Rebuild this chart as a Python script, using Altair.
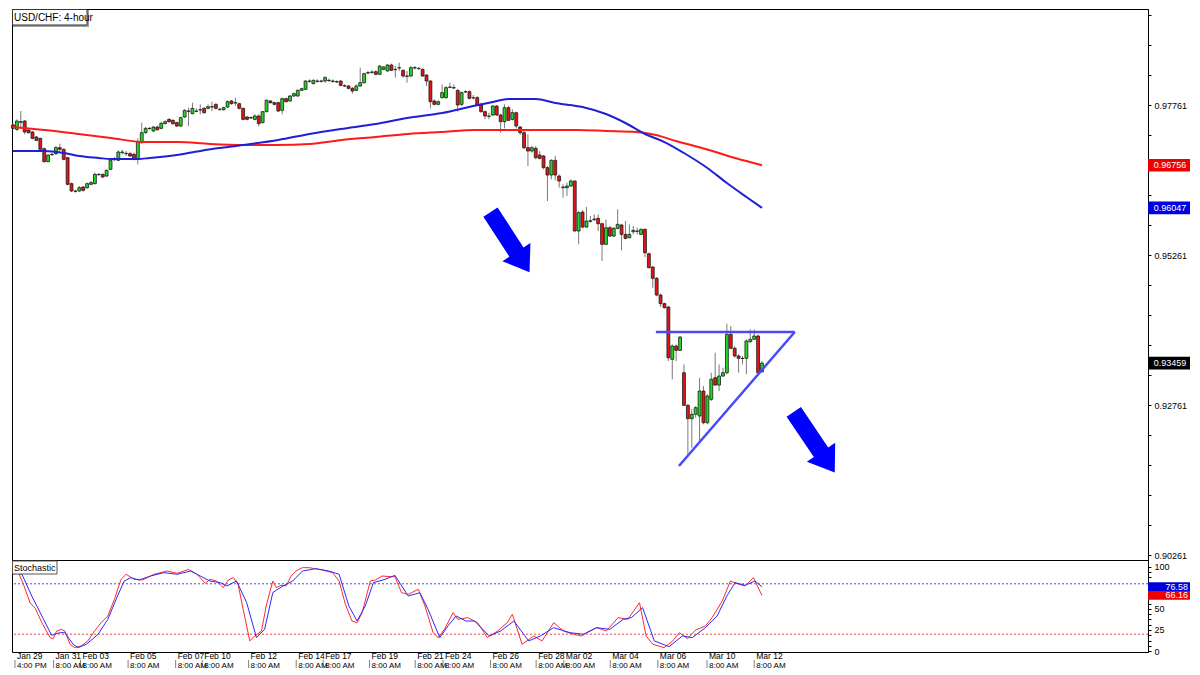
import altair as alt
import pandas as pd

# ---------------- data (prices in points, 1 point = 0.00001) ----------------
OPEN = [97428,97355,97472,97494,97344,97311,97228,97205,97033,96817,
        96933,96950,97050,97022,96883,96450,96322,96328,96394,96383,
        96439,96450,96600,96605,96578,96689,96850,96839,96967,96956,
        96950,96939,96855,97133,97300,97367,97328,97394,97372,97450,
        97522,97505,97467,97411,97561,97655,97617,97655,97678,97705,
        97705,97728,97772,97683,97683,97728,97828,97794,97783,97705,
        97561,97544,97522,97578,97467,97650,97828,97800,97800,97672,
        97867,97828,97911,97911,98005,98022,98155,
        98117,98155,98155,98161,98172,98161,98150,98161,98083,98078,
        98039,98005,98078,98133,98294,98305,98316,98272,98355,98328,
        98428,98350,98378,98339,98239,98244,98378,98366,98355,98261,
        98161,97828,97772,97883,97883,98055,98044,98005,97772,97978,
        97983,97878,97883,97761,97650,97572,97594,97744,97594,97483,
        97717,97522,97633,97394,97300,97050,96994,97039,96928,96911,
        96717,96594,96839,
        96577,96383,96383,96411,96494,95661,95977,95727,95822,95849,
        95872,95783,95439,95716,95577,95705,95761,95605,95549,95649,
        95655,95605,95688,95283,95061,94872,94594,94450,94394,
        93522,93744,93672,93299,92756,92533,92606,92578,92994,92466,
        92856,93216,93094,93244,93299,93939,93706,93578,93539,93539,
        93816,93856,93911,93316]
HIGH = [97467,97522,97661,97511,97355,97328,97244,97217,97050,96939,
        96967,97078,97117,97039,96894,96467,96350,96411,96411,96467,
        96494,96633,96628,96622,96689,96855,96894,97005,97017,96994,
        96983,96967,97205,97467,97394,97394,97411,97417,97483,97505,
        97539,97522,97483,97567,97689,97717,97800,97705,97772,97728,
        97772,97817,97789,97717,97733,97839,97844,97883,97800,97717,
        97578,97572,97605,97605,97661,97855,97844,97817,97817,97883,
        97883,97928,97967,98022,98050,98172,98189,
        98189,98189,98183,98244,98205,98189,98172,98178,98105,98094,
        98061,98105,98383,98300,98328,98339,98339,98428,98411,98439,
        98450,98411,98466,98355,98328,98411,98411,98394,98372,98272,
        98172,97855,97839,98105,98078,98133,98105,98022,97983,98005,
        98005,97928,97911,97800,97672,97633,97761,97761,97617,97772,
        97744,97689,97650,97411,97328,97272,97078,97078,96994,96928,
        96744,96855,96911,
        96605,96439,96466,96522,96505,95994,96005,96061,95911,95938,
        95938,95799,95855,95744,95727,96022,95783,95827,95772,95744,
        95716,95705,95705,95299,95077,94894,94616,94466,94411,
        93772,93772,93911,93439,92778,92694,92744,93216,93078,92939,
        93299,93633,93439,93383,94116,94078,93744,93606,93578,93856,
        94023,94023,93939,93494]
LOW = [97355,97328,97372,97272,97283,97189,97161,97005,96800,96805,
       96911,96928,96994,96839,96422,96311,96300,96311,96317,96367,
       96428,96439,96583,96544,96561,96678,96828,96828,96939,96911,
       96894,96839,96772,97117,97283,97350,97311,97333,97355,97439,
       97467,97433,97394,97394,97550,97411,97605,97639,97605,97617,
       97689,97661,97689,97672,97667,97711,97767,97744,97689,97505,
       97505,97528,97505,97405,97455,97639,97783,97755,97644,97605,
       97800,97817,97894,97900,97994,98011,98133,
       98105,98133,98133,98133,98150,98133,98128,98072,98061,98022,
       97950,97994,98061,98117,98272,98283,98255,98261,98339,98316,
       98328,98217,98328,98217,98133,98228,98355,98350,98228,98078,
       97705,97755,97755,97867,97867,98039,98028,97650,97744,97961,
       97855,97855,97744,97633,97522,97522,97578,97578,97300,97372,
       97494,97505,97372,97261,97022,96744,96967,96855,96855,96689,
       96161,96522,96505,
       96383,96216,96244,96394,95650,95439,95705,95716,95800,95827,
       95661,95161,95427,95561,95561,95688,95338,95522,95538,95605,
       95605,95594,95227,95038,94716,94577,94394,94372,93494,
       93189,93494,93661,92744,91939,92049,92549,92133,92439,92439,
       92828,93078,92994,93228,93273,93689,93549,93299,93439,93273,
       93799,93856,93283,93299]
CLOSE = [97372,97494,97483,97311,97300,97205,97172,97022,96817,96928,
         96939,97050,97022,96855,96439,96328,96328,96383,96339,96450,
         96467,96605,96605,96561,96672,96839,96855,96978,96978,96950,
         96911,96855,97150,97300,97372,97372,97394,97350,97455,97483,
         97483,97450,97411,97550,97672,97661,97705,97661,97683,97633,
         97733,97733,97705,97689,97717,97817,97783,97800,97705,97522,
         97522,97550,97578,97450,97650,97839,97800,97772,97661,97867,
         97817,97911,97950,98005,98033,98161,98161,
         98172,98161,98161,98217,98166,98155,98144,98089,98078,98039,
         97994,98078,98133,98283,98300,98311,98272,98411,98394,98428,
         98339,98355,98383,98244,98244,98383,98383,98372,98244,98161,
         97817,97772,97817,97967,98050,98061,98050,97761,97967,97983,
         97872,97883,97761,97650,97578,97578,97744,97594,97483,97717,
         97505,97633,97411,97300,97050,96994,97050,96883,96872,96717,
         96594,96839,96594,
         96494,96394,96411,96494,95661,95966,95727,95827,95833,95861,
         95783,95439,95716,95577,95705,95772,95605,95538,95605,95672,
         95661,95688,95299,95050,94872,94594,94450,94383,93549,
         93744,93672,93894,92756,92533,92606,92716,92994,92466,92911,
         93189,93094,93244,93299,93939,93706,93578,93539,93536,93828,
         93856,93911,93299,93459]

# moving averages (candle index, price in points)
MA_BLUE_I = [0, 8, 13, 17, 22, 25, 32, 35, 42, 51, 59, 68, 76, 84, 93, 101,
             110, 118, 123, 127, 134, 139, 146, 152, 157, 162, 167, 172, 178, 183, 188, 192]
MA_BLUE_V = [96994, 96994, 96961, 96911, 96878, 96861, 96861, 96878, 96928, 97028,
             97094, 97178, 97278, 97361, 97444, 97544, 97628, 97744, 97811, 97861,
             97861, 97794, 97728, 97611, 97461, 97278, 97144, 96961, 96711, 96461,
             96228, 96047]
MA_RED_I = [0, 8.1, 16.8, 25.1, 33.5, 42.2, 50.5, 59, 67.6, 76, 84.3, 93, 101.3,
            109.7, 118.4, 126.7, 135.1, 144.5, 152.1, 159.7, 164.8, 169.9, 177.5, 185.1, 192]
MA_RED_V = [97394, 97344, 97278, 97211, 97144, 97144, 97111, 97094, 97094, 97111,
            97178, 97228, 97278, 97311, 97344, 97344, 97344, 97344, 97328, 97311,
            97261, 97161, 97028, 96878, 96756]

# stochastic %K (red) and %D (blue)
K_I = [0, 1.4, 2.7, 4.4, 5.7, 7.4, 9.5, 10.3, 11.2, 12.4, 13.3, 14.6, 15.8, 17.5, 19.2,
       20.9, 22.6, 24.3, 26, 27.7, 29, 31.1, 33.2, 36.1, 39.5, 42.1, 45, 47.2, 49.3, 50.5,
       52.2, 53.9, 55.2, 56.5, 57.7, 59, 60.7, 62, 63.7, 64.9, 66.6, 67.5, 68.7, 70, 71.3,
       72.5, 74.2, 75.9, 79.3, 81.9, 83.6, 85.2, 86.9, 88.2, 89.5, 91.6, 92.9, 94.6, 96.7,
       97.9, 99.6, 101.3, 103.9, 105.6, 107.7, 109, 110.6, 112.8, 114, 116.6, 119.1, 121.6,
       124.2, 126.7, 128, 130.5, 133.5, 135.6, 138.6, 141.1, 143.7, 145.8, 147.1, 149.6,
       152.1, 155.1, 157.6, 160.6, 162.3, 164, 166.9, 169.1, 170.8, 172.9, 175, 177.5,
       179.2, 181.8, 183.9, 186, 187.7, 189.8, 192]
K_V = [91.3, 93, 79, 57, 51, 33.7, 16, 14.7, 23.8, 25.8, 23.8, 8, 4, 6, 12,
       23.8, 33.7, 41.7, 61.5, 85.3, 91.3, 85.3, 84.5, 91.3, 95.2, 92.5, 97.2, 91.3, 80.6, 85.3,
       83.3, 75.4, 84.5, 87.3, 79.4, 49.6, 12, 17.9, 23.8, 53.6, 83.3, 75.4, 78.2, 77.4, 89.3,
       95.2, 99.2, 99.2, 96.4, 93.3, 83.3, 55.6, 35.7, 33.7, 45.6, 83.3, 84.5, 89.3, 88.5,
       88.5, 69.4, 67.5, 73.4, 53.6, 21.8, 15.9, 25.8, 45.6, 37.7, 39.7, 33.7, 15.9,
       23.8, 33.7, 43.7, 8, 17.9, 12, 33.7, 23.8, 19.9, 17.9, 21.8, 27.8,
       23.8, 39.7, 37.7, 57.6, 17.9, 8, 4, 12, 21.8, 14.7, 25, 29.8,
       39.7, 59.5, 83.3, 79.4, 77.4, 87.3, 66.16]
D_I = [0, 2.3, 4.8, 7.4, 9.9, 12, 13.3, 15.4, 16.7, 18.8, 21.8, 24.3, 26.8, 28.5, 30.2,
       32.3, 35.3, 38.7, 42.1, 45.5, 48, 50.5, 53.1, 54.8, 57.3, 59.9, 62.4, 64.5, 66.6,
       69.2, 71.7, 74.2, 77.6, 81, 83.6, 86.1, 88.2, 90.3, 92.4, 95.4, 97.9, 101.3, 104.3,
       106.4, 109.4, 111.5, 113.6, 116.1, 118.3, 122.1, 125, 128.4, 132.2, 135.2, 138.6,
       142.8, 146.2, 149.6, 153, 156.4, 158.5, 161.4, 164.4, 168.2, 171.6, 174.1, 177.5,
       180.5, 183, 185.1, 187.7, 190.2, 192]
D_V = [93.3, 91.3, 65.5, 41.7, 18.7, 21.8, 21.8, 8, 4, 8, 19.8, 37.7, 65.5, 83.3, 87.3,
       84.5, 89.3, 93.3, 91.3, 95.2, 89.3, 83.3, 81.4, 77.4, 83.3, 57.6, 15.9, 25.8, 69.5,
       77.4, 83.3, 95.2, 98, 95.2, 91.3, 53.6, 35.7, 53.6, 81.4, 85.3, 90.1, 65.5, 69.4,
       49.6, 15.9, 29.8, 41.7, 35.7, 35.7, 17.9, 23.8, 35.7, 12, 17.9, 27.8,
       21.8, 19.9, 27.8, 25.8, 37.7, 39.7, 51.6, 12, 5.2, 17.9, 15.9, 27.8,
       41.7, 65.5, 81.4, 78.2, 83.3, 76.58]

# annotations (candle index, price)
RES_I = [164.8, 200.4]
RES_P = [0.93978, 0.93978]
SUP_I = [170.7, 200.4]
SUP_P = [0.91744, 0.93978]
ARROW_I = [127.4, 205.4]
ARROW_P = [0.95476, 0.92141]

# axis ticks / labels
PRICE_TICKS = [0.90261, 0.90761, 0.91261, 0.91761, 0.92261, 0.92761, 0.93261, 0.93761,
               0.94261, 0.94761, 0.95261, 0.95761, 0.96261, 0.96761, 0.97261, 0.97761,
               0.98261, 0.98761, 0.99261]
PRICE_LABELS = ["0.90261", "0.92761", "0.95261", "0.97761"]
STOCH_TICKS = [0, 6.25, 12.5, 18.75, 25, 31.25, 37.5, 43.75, 50, 56.25, 62.5, 68.75,
               75, 81.25, 87.5, 93.75, 100]
STOCH_LABELS = [0, 25, 50, 100]
STOCH_LEVEL_HI = 80
STOCH_LEVEL_LO = 20

# value tags on the right axis: (price, box colour)
TAG_PRICES = [0.96756, 0.96047, 0.93459]
TAG_COLORS = ["#ee0000", "#0000dd", "#000000"]
STOCH_TAG_VALUES = [76.58, 66.16]
STOCH_TAG_COLORS = ["#0000dd", "#ee0000"]

DATE_POS = [0.5, 10.4, 17.3, 29.5, 41.7, 48.5, 60.4, 72.6, 79.5, 91.4, 103.1, 110.2,
            122.4, 134.1, 141.2, 153.1, 165.3, 177.9, 190.0]
DATE_LABELS = ["Jan 29", "Jan 31", "Feb 03", "Feb 05", "Feb 07", "Feb 10", "Feb 12",
               "Feb 14", "Feb 17", "Feb 19", "Feb 21", "Feb 24", "Feb 26", "Feb 28",
               "Mar 02", "Mar 04", "Mar 06", "Mar 10", "Mar 12"]
TIME_LABELS = ["4:00 PM"] + ["8:00 AM"] * 18

TITLE = "USD/CHF: 4-hour"
STOCH_TITLE = "Stochastic"

# ---------------- layout / style ----------------
W = 1136
H_MAIN = 551
H_STO = 92
H_STRIP = 16
XDOM = [-0.256, 290.95]
YDOM = [0.90178, 0.99361]
SDOM = [-1.19, 108.33]
FONT = "Liberation Sans"
FS = 9
GREEN = "#22d822"
RED = "#e51414"
WICK = "#7a7a7a"
BLUE_MA = "#1f1fd6"
RED_MA = "#ff1a1a"
LINE_BLUE = "#4848ff"
ARROW_BLUE = "#0000ff"

SC = 100000.0
n = len(OPEN)
candles = pd.DataFrame({
    "i": list(range(n)),
    "o": [v / SC for v in OPEN],
    "h": [v / SC for v in HIGH],
    "l": [v / SC for v in LOW],
    "c": [v / SC for v in CLOSE],
})
candles["top"] = candles[["o", "c"]].max(axis=1)
candles["bot"] = candles[["o", "c"]].min(axis=1)
up = candles[candles["c"] >= candles["o"]]
down = candles[candles["c"] < candles["o"]]

ma_blue = pd.DataFrame({"i": MA_BLUE_I, "v": [v / SC for v in MA_BLUE_V]})
ma_red = pd.DataFrame({"i": MA_RED_I, "v": [v / SC for v in MA_RED_V]})

xs = alt.Scale(domain=XDOM, nice=False, zero=False)
ys = alt.Scale(domain=YDOM, nice=False, zero=False)
ss = alt.Scale(domain=SDOM, nice=False, zero=False)

price_expr = "indexof([" + ",".join("'" + s + "'" for s in PRICE_LABELS) + \
    "], format(datum.value, '.5f')) >= 0 ? format(datum.value, '.5f') : ''"
yaxis = alt.Axis(orient="right", values=PRICE_TICKS, labelExpr=price_expr, title=None,
                 grid=False, tickSize=3, tickColor="black", domainColor="black",
                 labelFont=FONT, labelFontSize=FS, labelColor="black", labelPadding=3,
                 labelOverlap=False)
stoch_expr = "indexof([" + ",".join(str(v) for v in STOCH_LABELS) + \
    "], datum.value) >= 0 ? datum.label : ''"
saxis = alt.Axis(orient="right", values=STOCH_TICKS, labelExpr=stoch_expr, title=None,
                 grid=False, tickSize=3, tickColor="black", domainColor="black",
                 labelFont=FONT, labelFontSize=FS, labelColor="black", labelPadding=3,
                 labelOverlap=False)


def X(f):
    return alt.X(f, type="quantitative", scale=xs, axis=None)


def Y(f):
    return alt.Y(f, type="quantitative", scale=ys, axis=yaxis)


def S(f):
    return alt.Y(f, type="quantitative", scale=ss, axis=saxis)


# ---------------- main price panel ----------------
title_df = pd.DataFrame({"t": [TITLE]})
title_shadow = alt.Chart(title_df).mark_rect(fill="#a0a0a0").encode(
    x=alt.value(1), x2=alt.value(77), y=alt.value(1), y2=alt.value(18))
title_box = alt.Chart(title_df).mark_rect(fill="white", stroke="#333333", strokeWidth=1).encode(
    x=alt.value(0.5), x2=alt.value(75), y=alt.value(0.5), y2=alt.value(16))
title_txt = alt.Chart(title_df).mark_text(align="left", baseline="middle", font=FONT,
                                          fontSize=10, color="black").encode(
    x=alt.value(2), y=alt.value(8.5), text="t:N")

wicks = alt.Chart(candles).mark_rule(color=WICK, strokeWidth=1).encode(
    x=X("i"), y=Y("l"), y2="h")


def body_layer(df, fill):
    return alt.Chart(df).transform_calculate(
        xl="datum.i - 0.37", xr="datum.i + 0.37"
    ).mark_rect(fill=fill, stroke="#1a1a1a", strokeWidth=0.8).encode(
        x=X("xl"), x2="xr", y=Y("top"), y2="bot")


bodies_up = body_layer(up, GREEN)
bodies_down = body_layer(down, RED)

ma_r = alt.Chart(ma_red).mark_line(color=RED_MA, strokeWidth=2, interpolate="monotone").encode(
    x=X("i"), y=Y("v"))
ma_b = alt.Chart(ma_blue).mark_line(color=BLUE_MA, strokeWidth=2, interpolate="monotone").encode(
    x=X("i"), y=Y("v"))

res = alt.Chart(pd.DataFrame({"i": RES_I, "p": RES_P})).mark_line(
    color=LINE_BLUE, strokeWidth=2.5).encode(x=X("i"), y=Y("p"))
sup = alt.Chart(pd.DataFrame({"i": SUP_I, "p": SUP_P})).mark_line(
    color=LINE_BLUE, strokeWidth=2.5).encode(x=X("i"), y=Y("p"))

ARROW_PATH = "M -1 -0.236 L 0.33 -0.236 L 0.33 -0.466 L 1 0 L 0.33 0.466 L 0.33 0.236 L -1 0.236 Z"
arrow1 = alt.Chart(pd.DataFrame({"i": [ARROW_I[0]], "p": [ARROW_P[0]]})).mark_point(
    shape=ARROW_PATH, filled=True, color=ARROW_BLUE, opacity=1, size=5141, angle=57,
    strokeWidth=0).encode(x=X("i"), y=Y("p"))
arrow2 = alt.Chart(pd.DataFrame({"i": [ARROW_I[1]], "p": [ARROW_P[1]]})).mark_point(
    shape=ARROW_PATH, filled=True, color=ARROW_BLUE, opacity=1, size=5373, angle=56,
    strokeWidth=0).encode(x=X("i"), y=Y("p"))

BOX_PATH = "M -1 -0.3 L 1 -0.3 L 1 0.3 L -1 0.3 Z"
tag_layers = []
for p, col in zip(TAG_PRICES, TAG_COLORS):
    tdf = pd.DataFrame({"p": [p], "label": ["%.5f" % p]})
    tag_layers.append(alt.Chart(tdf).mark_point(
        shape=BOX_PATH, filled=True, opacity=1, size=42 * 42, strokeWidth=0, color=col
    ).encode(x=alt.value(W + 21), y=Y("p")))
    tag_layers.append(alt.Chart(tdf).mark_text(
        color="white", font=FONT, fontSize=FS, align="center", baseline="middle"
    ).encode(x=alt.value(W + 22), y=Y("p"), text="label:N"))

main = alt.layer(wicks, bodies_up, bodies_down, ma_r, ma_b, res, sup, arrow1, arrow2,
                 *tag_layers, title_shadow, title_box, title_txt).properties(
    width=W, height=H_MAIN)

# ---------------- stochastic panel ----------------
kdf = pd.DataFrame({"i": K_I, "v": K_V})
ddf = pd.DataFrame({"i": D_I, "v": D_V})
lvl_hi = alt.Chart(pd.DataFrame({"v": [STOCH_LEVEL_HI]})).mark_rule(
    strokeDash=[2, 2], strokeWidth=1, color="#4b4be6").encode(y=S("v"))
lvl_lo = alt.Chart(pd.DataFrame({"v": [STOCH_LEVEL_LO]})).mark_rule(
    strokeDash=[2, 2], strokeWidth=1, color="#e64b4b").encode(y=S("v"))
kline = alt.Chart(kdf).mark_line(color="#ff2a2a", strokeWidth=1).encode(x=X("i"), y=S("v"))
dline = alt.Chart(ddf).mark_line(color="#2a2aff", strokeWidth=1).encode(x=X("i"), y=S("v"))

SBOX_PATH = "M -1 -0.21 L 1 -0.21 L 1 0.21 L -1 0.21 Z"
stag_layers = []
for v, col in zip(STOCH_TAG_VALUES, STOCH_TAG_COLORS):
    sdf = pd.DataFrame({"v": [v], "label": ["%.2f" % v]})
    stag_layers.append(alt.Chart(sdf).mark_point(
        shape=SBOX_PATH, filled=True, opacity=1, size=42 * 42, strokeWidth=0, color=col
    ).encode(x=alt.value(W + 21), y=S("v")))
    stag_layers.append(alt.Chart(sdf).mark_text(
        color="white", font=FONT, fontSize=FS, align="right", baseline="middle"
    ).encode(x=alt.value(W + 40), y=S("v"), text="label:N"))

st_df = pd.DataFrame({"t": [STOCH_TITLE]})
st_box = alt.Chart(st_df).mark_rect(fill="white", stroke="#555555", strokeWidth=1).encode(
    x=alt.value(0.5), x2=alt.value(45), y=alt.value(1), y2=alt.value(14))
st_txt = alt.Chart(st_df).mark_text(align="left", baseline="middle", font=FONT, fontSize=FS,
                                    color="black").encode(
    x=alt.value(2), y=alt.value(8), text="t:N")

stoch = alt.layer(lvl_hi, lvl_lo, kline, dline, *stag_layers, st_box, st_txt).properties(
    width=W, height=H_STO)

# ---------------- date strip ----------------
dates = pd.DataFrame({"pos": DATE_POS, "date": DATE_LABELS, "time": TIME_LABELS})
seps = alt.Chart(dates).mark_rule(color="#808080", strokeWidth=1).encode(
    x=X("pos"), y=alt.value(8), y2=alt.value(16))
dtxt = alt.Chart(dates).mark_text(align="left", baseline="top", dx=2, font=FONT, fontSize=8.5,
                                  color="black").encode(
    x=X("pos"), y=alt.value(0), text="date:N")
ttxt = alt.Chart(dates).mark_text(align="left", baseline="top", dx=2, font=FONT, fontSize=8,
                                  color="black", clip=True).encode(
    x=X("pos"), y=alt.value(10), text="time:N")
strip = alt.layer(seps, dtxt, ttxt).properties(
    width=W, height=H_STRIP, view=alt.ViewBackground(stroke="transparent", strokeWidth=0))

chart = alt.vconcat(main, stoch, strip, spacing=0, bounds="flush").properties(
    padding=0, background="white"
).configure_view(stroke="black", strokeWidth=1)

chart.save("out.html", embed_options={"renderer": "svg", "actions": False})
